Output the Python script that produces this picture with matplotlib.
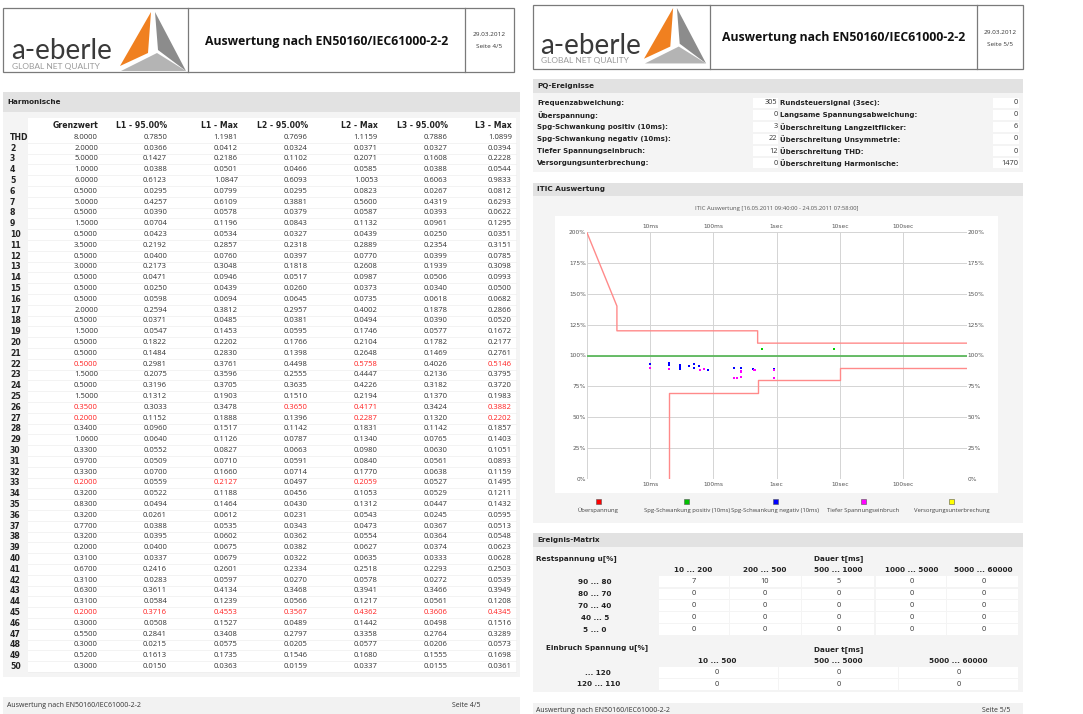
import matplotlib
matplotlib.use("Agg")
import matplotlib.pyplot as plt
from matplotlib.patches import Rectangle, Polygon
from matplotlib.ticker import NullLocator

W, H = 1083, 714

# ---------------- data: harmonics table ----------------
harm_orders = ["THD"] + [str(i) for i in range(2, 51)]
grenzwert = [8.0, 2.0, 5.0, 1.0, 6.0, 0.5, 5.0, 0.5, 1.5, 0.5, 3.5, 0.5, 3.0, 0.5, 0.5, 0.5, 2.0, 0.5,
             1.5, 0.5, 0.5, 0.5, 1.5, 0.5, 1.5, 0.35, 0.2, 0.34, 1.06, 0.33, 0.97, 0.33, 0.2, 0.32,
             0.83, 0.32, 0.77, 0.32, 0.2, 0.31, 0.67, 0.31, 0.63, 0.31, 0.2, 0.3, 0.55, 0.3, 0.52, 0.3]
l1_95 = [0.7850, 0.0366, 0.1427, 0.0388, 0.6123, 0.0295, 0.4257, 0.0390, 0.0704, 0.0423, 0.2192, 0.0400,
         0.2173, 0.0471, 0.0250, 0.0598, 0.2594, 0.0371, 0.0547, 0.1822, 0.1484, 0.2981, 0.2075, 0.3196,
         0.1312, 0.3033, 0.1152, 0.0960, 0.0640, 0.0552, 0.0509, 0.0700, 0.0559, 0.0522, 0.0494, 0.0261,
         0.0388, 0.0395, 0.0400, 0.0337, 0.2416, 0.0283, 0.3611, 0.0584, 0.3716, 0.0508, 0.2841, 0.0215,
         0.1613, 0.0150]
l1_max = [1.1981, 0.0412, 0.2186, 0.0501, 1.0847, 0.0799, 0.6109, 0.0578, 0.1196, 0.0534, 0.2857, 0.0760,
          0.3048, 0.0946, 0.0439, 0.0694, 0.3812, 0.0485, 0.1453, 0.2202, 0.2830, 0.3761, 0.3596, 0.3705,
          0.1903, 0.3478, 0.1888, 0.1517, 0.1126, 0.0827, 0.0710, 0.1660, 0.2127, 0.1188, 0.1464, 0.0612,
          0.0535, 0.0602, 0.0675, 0.0679, 0.2601, 0.0597, 0.4134, 0.1239, 0.4553, 0.1527, 0.3408, 0.0575,
          0.1735, 0.0363]
l2_95 = [0.7696, 0.0324, 0.1102, 0.0466, 0.6093, 0.0295, 0.3881, 0.0379, 0.0843, 0.0327, 0.2318, 0.0397,
         0.1818, 0.0517, 0.0260, 0.0645, 0.2957, 0.0381, 0.0595, 0.1766, 0.1398, 0.4498, 0.2555, 0.3635,
         0.1510, 0.3650, 0.1396, 0.1142, 0.0787, 0.0663, 0.0591, 0.0714, 0.0497, 0.0456, 0.0430, 0.0231,
         0.0343, 0.0362, 0.0382, 0.0322, 0.2334, 0.0270, 0.3468, 0.0566, 0.3567, 0.0489, 0.2797, 0.0205,
         0.1546, 0.0159]
l2_max = [1.1159, 0.0371, 0.2071, 0.0585, 1.0053, 0.0823, 0.5600, 0.0587, 0.1132, 0.0439, 0.2889, 0.0770,
          0.2608, 0.0987, 0.0373, 0.0735, 0.4002, 0.0494, 0.1746, 0.2104, 0.2648, 0.5758, 0.4447, 0.4226,
          0.2194, 0.4171, 0.2287, 0.1831, 0.1340, 0.0980, 0.0840, 0.1770, 0.2059, 0.1053, 0.1312, 0.0543,
          0.0473, 0.0554, 0.0627, 0.0635, 0.2518, 0.0578, 0.3941, 0.1217, 0.4362, 0.1442, 0.3358, 0.0577,
          0.1680, 0.0337]
l3_95 = [0.7886, 0.0327, 0.1608, 0.0388, 0.6063, 0.0267, 0.4319, 0.0393, 0.0961, 0.0250, 0.2354, 0.0399,
         0.1939, 0.0506, 0.0340, 0.0618, 0.1878, 0.0390, 0.0577, 0.1782, 0.1469, 0.4026, 0.2136, 0.3182,
         0.1370, 0.3424, 0.1320, 0.1142, 0.0765, 0.0630, 0.0561, 0.0638, 0.0527, 0.0529, 0.0447, 0.0245,
         0.0367, 0.0364, 0.0374, 0.0333, 0.2293, 0.0272, 0.3466, 0.0561, 0.3606, 0.0498, 0.2764, 0.0206,
         0.1555, 0.0155]
l3_max = [1.0899, 0.0394, 0.2228, 0.0544, 0.9833, 0.0812, 0.6293, 0.0622, 0.1295, 0.0351, 0.3151, 0.0785,
          0.3098, 0.0993, 0.0500, 0.0682, 0.2866, 0.0520, 0.1672, 0.2177, 0.2761, 0.5146, 0.3795, 0.3720,
          0.1983, 0.3882, 0.2202, 0.1857, 0.1403, 0.1051, 0.0893, 0.1159, 0.1495, 0.1211, 0.1432, 0.0595,
          0.0513, 0.0548, 0.0623, 0.0628, 0.2503, 0.0539, 0.3949, 0.1208, 0.4345, 0.1516, 0.3289, 0.0573,
          0.1698, 0.0361]
harm_headers = ["Grenzwert", "L1 - 95.00%", "L1 - Max", "L2 - 95.00%", "L2 - Max", "L3 - 95.00%", "L3 - Max"]

# ---------------- data: PQ events ----------------
pq_left_labels = ["Frequenzabweichung:", "Überspannung:", "Spg-Schwankung positiv (10ms):",
                  "Spg-Schwankung negativ (10ms):", "Tiefer Spannungseinbruch:", "Versorgungsunterbrechung:"]
pq_left_values = [305, 0, 3, 22, 12, 0]
pq_right_labels = ["Rundsteuersignal (3sec):", "Langsame Spannungsabweichung:", "Überschreitung Langzeitflicker:",
                   "Überschreitung Unsymmetrie:", "Überschreitung THD:", "Überschreitung Harmonische:"]
pq_right_values = [0, 0, 6, 0, 0, 1470]

# ---------------- data: ITIC ----------------
itic_upper_t = [1, 3, 3, 500, 500, 1e6]
itic_upper_u = [200, 140, 120, 120, 110, 110]
itic_lower_t = [20, 20, 500, 500, 10000, 10000, 1e6]
itic_lower_u = [0, 70, 70, 80, 80, 90, 90]
nominal_t = [1, 1e6]
nominal_u = [100, 100]
pos_t = [590, 8100]
pos_u = [105.5, 105.5]
neg_t = [10, 20, 20, 30, 30, 30, 41, 49, 49, 60, 82, 210, 270, 430, 900]
neg_u = [93.0, 93.8, 92.0, 92.5, 90.8, 89.0, 91.8, 92.8, 90.0, 91.2, 88.2, 89.5, 89.8, 89.3, 89.3]
dip_t = [10, 20, 62, 70, 215, 232, 275, 275, 270, 440, 460, 914, 914]
dip_u = [89.6, 88.8, 88.0, 89.0, 81.8, 81.8, 87.8, 86.5, 82.8, 87.9, 87.9, 87.9, 81.7]
itic_ticks = [10, 100, 1000, 10000, 100000]
itic_tick_labels = ["10ms", "100ms", "1sec", "10sec", "100sec"]
itic_yticks = [0, 25, 50, 75, 100, 125, 150, 175, 200]
legend_labels = ["Überspannung", "Spg-Schwankung positiv (10ms)", "Spg-Schwankung negativ (10ms)",
                 "Tiefer Spannungseinbruch", "Versorgungsunterbrechung"]
legend_colors = ["#ff0000", "#00c000", "#0000ff", "#ff00ff", "#ffff00"]

# ---------------- data: event matrix ----------------
rest_rows = ["90 ... 80", "80 ... 70", "70 ... 40", "40 ... 5", "5 ... 0"]
rest_cols = ["10 ... 200", "200 ... 500", "500 ... 1000", "1000 ... 5000", "5000 ... 60000"]
rest_vals = [[7, 10, 5, 0, 0], [0, 0, 0, 0, 0], [0, 0, 0, 0, 0], [0, 0, 0, 0, 0], [0, 0, 0, 0, 0]]
ein_rows = ["... 120", "120 ... 110"]
ein_cols = ["10 ... 500", "500 ... 5000", "5000 ... 60000"]
ein_vals = [[0, 0, 0], [0, 0, 0]]

# ======================================================
fig = plt.figure(figsize=(W / 100, H / 100), dpi=100)
fig.patch.set_facecolor("white")

BOLD = dict(family="DejaVu Sans", weight="bold")
REG = dict(family="Open Sans")
TXT = "#222222"


def fx(x):
    return x / W


def fy(y):
    return 1 - y / H


def rect(x0, y0, x1, y1, fc="white", ec="none", lw=0.0, z=0):
    fig.add_artist(Rectangle((fx(x0), fy(y1)), (x1 - x0) / W, (y1 - y0) / H,
                             transform=fig.transFigure, facecolor=fc, edgecolor=ec, lw=lw, zorder=z))


def line(x0, y0, x1, y1, color="#888888", lw=0.8, z=1):
    fig.add_artist(plt.Line2D([fx(x0), fx(x1)], [fy(y0), fy(y1)], transform=fig.transFigure,
                              color=color, lw=lw, zorder=z))


def text(x, y, s, size=5.5, ha="left", va="center", color=TXT, font=REG, **kw):
    fig.text(fx(x), fy(y), s, fontsize=size, ha=ha, va=va, color=color, zorder=5, **font, **kw)


def logo(ax0, ay0, scale):
    def T(pts):
        return [(fx(ax0 + (px - 153) * scale), fy(ay0 + (py - 12) * scale)) for px, py in pts]
    for pts, col in [([(151, 12), (148, 53), (120, 66)], "#f08020"),
                     ([(155, 12), (186, 71), (158, 50)], "#8c8c8c"),
                     ([(121, 71), (157, 53), (186, 71)], "#b4b4b4")]:
        fig.add_artist(Polygon(T(pts), closed=True, transform=fig.transFigure,
                               facecolor=col, edgecolor="none", zorder=3))


def header(x0, y0, x1, y1, d1, d2, page, text_x, logo_apex, logo_scale, word_xy, tag_xy):
    rect(x0, y0, x1, y1, fc="white", ec="#7a7a7a", lw=0.9, z=1)
    line(d1, y0, d1, y1, color="#7a7a7a", lw=0.9, z=2)
    line(d2, y0, d2, y1, color="#7a7a7a", lw=0.9, z=2)
    text((d1 + d2) / 2, (y0 + y1) / 2 + 1, "Auswertung nach EN50160/IEC61000-2-2", size=8.8,
         ha="center", font=dict(family="Open Sans", weight="bold"), color="#111111")
    text((d2 + x1) / 2, (y0 + y1) / 2 - 5, "29.03.2012", size=4.6, ha="center", color="#333333")
    text((d2 + x1) / 2, (y0 + y1) / 2 + 7, page, size=4.6, ha="center", color="#333333")
    logo(logo_apex[0], logo_apex[1], logo_scale)
    text(word_xy[0], word_xy[1], "a-eberle", size=20, va="baseline", color="#3a3a3a",
         font=dict(family="Lato"))
    text(tag_xy[0], tag_xy[1], "GLOBAL NET QUALITY", size=6, color="#9a9a9a", font=dict(family="Lato"))


def band(x0, y0, x1, y1, title):
    rect(x0, y0, x1, y1, fc="#e2e2e2")
    text(x0 + 4, (y0 + y1) / 2, title, size=5.2, font=BOLD)


# ---------------- LEFT PAGE ----------------
header(3, 8, 514, 72, 188, 465, "Seite 4/5", 325, (153, 12), 1.0, (11, 59), (12, 66))
band(3, 92, 520, 112, "Harmonische")
rect(3, 112, 520, 677, fc="#f4f4f4")
rect(28, 118, 516, 672, fc="white")

col_right = [98, 167, 238, 308, 378, 448, 512]
for cx, h in zip(col_right, harm_headers):
    text(cx, 126, h, size=5.6, ha="right", font=BOLD)

series = [grenzwert, l1_95, l1_max, l2_95, l2_max, l3_95, l3_max]
y_start, dy = 137.3, 10.8
for i, lab in enumerate(harm_orders):
    y = y_start + i * dy
    text(10, y, lab, size=5.6, font=BOLD)
    lim = grenzwert[i]
    exceed = [v > lim for v in (l1_95[i], l1_max[i], l2_95[i], l2_max[i], l3_95[i], l3_max[i])]
    for j, (cx, s) in enumerate(zip(col_right, series)):
        red = any(exceed) if j == 0 else exceed[j - 1]
        text(cx, y, f"{s[i]:.4f}", size=5.5, ha="right", color="#ff2020" if red else "#333333")
    line(28, y + dy / 2, 516, y + dy / 2, color="#eeeeee", lw=0.5)

rect(3, 697, 520, 714, fc="#f2f2f2")
text(7, 705.5, "Auswertung nach EN50160/IEC61000-2-2", size=5.0, color="#333333")
text(452, 705.5, "Seite 4/5", size=5.0, color="#333333")

# ---------------- RIGHT PAGE ----------------
header(533, 5, 1023, 69, 710, 977, "Seite 5/5", 843, (675, 8), 0.94, (540, 53.5), (541, 61))

band(533, 79, 1023, 93, "PQ-Ereignisse")
rect(533, 93, 1023, 172, fc="#f4f4f4")
for i in range(6):
    y = 102.7 + i * 12.1
    rect(753, y - 5, 778, y + 5, fc="white")
    rect(993, y - 5, 1019, y + 5, fc="white")
    text(537, y, pq_left_labels[i], size=5.0, font=BOLD)
    text(777.5, y, str(pq_left_values[i]), size=5.3, ha="right", color="#333333")
    text(779.5, y, pq_right_labels[i], size=5.0, font=BOLD)
    text(1018, y, str(pq_right_values[i]), size=5.3, ha="right", color="#333333")

band(533, 183, 1023, 196, "ITIC Auswertung")
rect(533, 196, 1023, 523, fc="#f4f4f4")
rect(555, 216, 998, 493, fc="white")
text(776.7, 208.3, "ITIC Auswertung [16.05.2011 09:40:00 - 24.05.2011 07:58:00]", size=4.2,
     ha="center", color="#555555")

ax_x0, ax_x1, ax_y0, ax_y1 = 586.7, 966.7, 232, 479
ax = fig.add_axes([fx(ax_x0), fy(ax_y1), (ax_x1 - ax_x0) / W, (ax_y1 - ax_y0) / H])
ax.set_xscale("log")
ax.set_xlim(1, 1e6)
ax.set_ylim(0, 200)
ax.patch.set_alpha(0)
for s in ax.spines.values():
    s.set_visible(False)
ax.set_xticks(itic_ticks)
ax.set_xticklabels(itic_tick_labels)
ax.xaxis.set_minor_locator(NullLocator())
ax.set_yticks(itic_yticks)
ax.set_yticklabels([f"{v}%" for v in itic_yticks])
ax.tick_params(axis="x", which="both", top=True, labeltop=True, bottom=True, labelbottom=True,
               length=0, labelsize=4.2, labelcolor="#555555", pad=2)
ax.tick_params(axis="y", left=True, right=True, labelleft=True, labelright=True,
               length=0, labelsize=4.2, labelcolor="#555555", pad=0.5)
ax.grid(True, color="#d4d4d4", lw=0.7)
ax.axvline(1, color="#d4d4d4", lw=0.7)
ax.axvline(1e6, color="#d4d4d4", lw=0.7)
ax.plot(nominal_t, nominal_u, color="#5cb85c", lw=1.3, zorder=3)
ax.plot(itic_upper_t, itic_upper_u, color="#ff8a8a", lw=1.0, zorder=3)
ax.plot(itic_lower_t, itic_lower_u, color="#ff8a8a", lw=1.0, zorder=3)
ax.scatter(pos_t, pos_u, s=3, marker="s", color="#00d000", lw=0, zorder=4)
ax.scatter(neg_t, neg_u, s=3, marker="s", color="#0000ff", lw=0, zorder=4)
ax.scatter(dip_t, dip_u, s=3, marker="s", color="#ff00ff", lw=0, zorder=5)

leg_x = [598.3, 686.7, 775, 863.3, 951.7]
for lx, lab, col in zip(leg_x, legend_labels, legend_colors):
    rect(lx - 2.5, 498.5, lx + 2.5, 503.5, fc=col, ec="#555555", lw=0.4, z=3)
    text(lx, 510.5, lab, size=4.2, ha="center", color="#444444")

band(533, 533, 1023, 547, "Ereignis-Matrix")
rect(533, 547, 1023, 692, fc="#f4f4f4")
text(576.7, 558.5, "Restspannung u[%]", size=5.2, ha="center", font=BOLD)
text(838.3, 558.5, "Dauer t[ms]", size=5.2, ha="center", font=BOLD)
rest_cx = [693.3, 765, 838.3, 911.7, 983.3]
rest_edges = [658.3, 729.3, 801.7, 875, 946.7, 1018.3]
for cx, c in zip(rest_cx, rest_cols):
    text(cx, 569.5, c, size=5.2, ha="center", font=BOLD)
rest_y = [581.7, 593.8, 605.7, 617.7, 629.7]
for r, (ry, rl) in enumerate(zip(rest_y, rest_rows)):
    text(595, ry, rl, size=5.2, ha="center", font=BOLD)
    for c in range(5):
        rect(rest_edges[c] + 0.5, ry - 5.3, rest_edges[c + 1] - 0.5, ry + 5.3, fc="white")
        text(rest_cx[c], ry, str(rest_vals[r][c]), size=5.3, ha="center", color="#333333")

text(596.7, 647.5, "Einbruch Spannung u[%]", size=5.2, ha="center", font=BOLD)
text(838.3, 650, "Dauer t[ms]", size=5.2, ha="center", font=BOLD)
ein_cx = [716.7, 838.3, 958.3]
ein_edges = [658.3, 778.3, 898.3, 1018.3]
for cx, c in zip(ein_cx, ein_cols):
    text(cx, 661, c, size=5.2, ha="center", font=BOLD)
ein_y = [672.7, 684.3]
for r, (ry, rl) in enumerate(zip(ein_y, ein_rows)):
    text(598.3, ry, rl, size=5.2, ha="center", font=BOLD)
    for c in range(3):
        rect(ein_edges[c] + 0.5, ry - 5.3, ein_edges[c + 1] - 0.5, ry + 5.3, fc="white")
        text(ein_cx[c], ry, str(ein_vals[r][c]), size=5.3, ha="center", color="#333333")

rect(533, 703, 1023, 714, fc="#f2f2f2")
text(536, 710.5, "Auswertung nach EN50160/IEC61000-2-2", size=5.0, color="#333333")
text(981.7, 710.5, "Seite 5/5", size=5.0, color="#333333")

fig.savefig("out.png", dpi=100, facecolor="white")
